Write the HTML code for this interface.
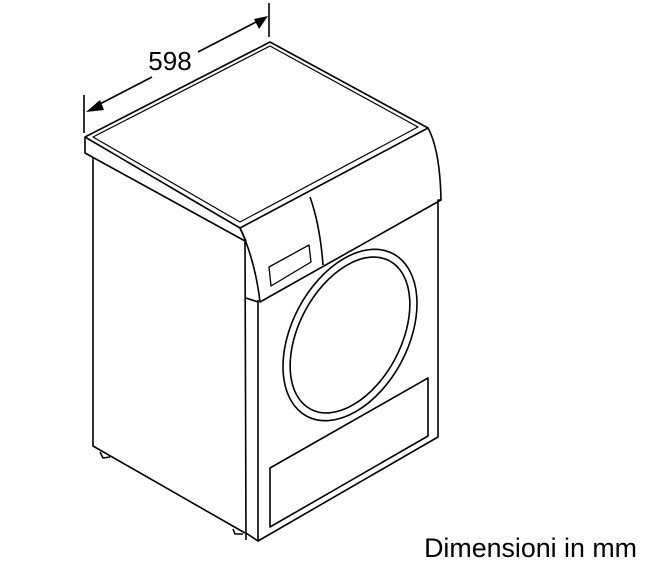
<!DOCTYPE html>
<html><head><meta charset="utf-8"><style>
html,body{margin:0;padding:0;background:#fff;}
svg{display:block;}
</style></head><body>
<svg width="648" height="577" viewBox="0 0 648 577" xmlns="http://www.w3.org/2000/svg">
<g fill="none" stroke="#000" stroke-width="1.6" stroke-linejoin="round">
<line x1="84" y1="95" x2="84" y2="133"/>
<line x1="269" y1="3" x2="269" y2="37"/>
<line x1="96" y1="106" x2="152" y2="77"/>
<line x1="198" y1="52" x2="258" y2="21"/>
<polygon points="85,137 270,42 428,128 240,228"/>
<polygon points="93,137 270,46 418,127 240,222" stroke-width="1.2"/>
<polyline points="85,137 85,153 245,241 246,540"/>
<polyline points="240,228 246,241"/>
<polyline points="93,157 93,446 245,533"/>
<path d="M428,128 Q440,150 441,200 L438,200 L438,437 L258,541 L246,533"/>
<line x1="258" y1="300" x2="258" y2="541"/>
<path d="M240,228 Q255,260 260,302 L441,200"/>
<path d="M310,197 Q320,225 323,265"/>
<polygon points="269,267 309,245 311,262 271,286" stroke-width="1.3"/>
<line x1="246" y1="298" x2="258" y2="302"/>
<ellipse cx="350" cy="335" rx="92" ry="58" transform="rotate(-62 350 335)"/>
<ellipse cx="350" cy="335" rx="84" ry="51" transform="rotate(-62 350 335)"/>
<polygon points="270,468 428,378 428,436 270,527"/>
<path d="M100,452 L103,458 L110,457"/>
<path d="M233,529 L235,534 L243,534"/>
</g>
<polygon points="86,112 100,100 104,110" fill="#000"/>
<polygon points="268,16 254,19 259,29" fill="#000"/>
<text x="170" y="70" font-family="Liberation Sans, Arial, sans-serif" font-size="26" text-anchor="middle">598</text>
<text x="637" y="557" font-family="Liberation Sans, Arial, sans-serif" font-size="26.8" text-anchor="end">Dimensioni in mm</text>
</svg>
</body></html>
